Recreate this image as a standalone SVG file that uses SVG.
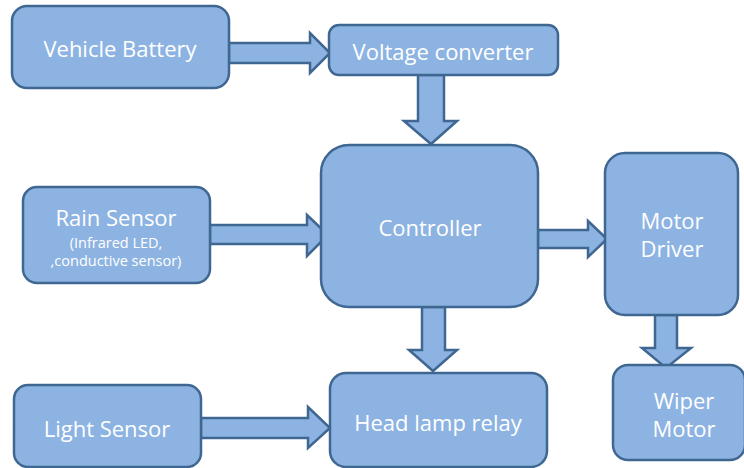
<svg xmlns="http://www.w3.org/2000/svg" width="744" height="468" viewBox="0 0 744 468">
<style>
.box{fill:#8DB3E2;stroke:#3F6791;stroke-width:2.5}
.arr{fill:#8DB3E2;stroke:#3F6791;stroke-width:2.5;stroke-linejoin:miter}
.t{font-family:"Open Sans","Liberation Sans",sans-serif;font-size:22px;fill:#ffffff;text-anchor:middle;dominant-baseline:central}
.s{font-family:"Open Sans","Liberation Sans",sans-serif;font-size:14.5px;fill:#ffffff;text-anchor:middle;dominant-baseline:central}
</style>
<rect width="744" height="468" fill="#ffffff"/>
<g id="connectors">
<polygon class="arr" points="229,43 310,43 310,33 330,53 310,73 310,63 229,63"/>
<polygon class="arr" points="418,75 418,121 404,121 431,144 457,121 444,121 444,75"/>
<polygon class="arr" points="210,225 307,225 307,215 328,235 307,256 307,244 210,244"/>
<polygon class="arr" points="538,230 588,230 588,221 607,239 588,257 588,248 538,248"/>
<polygon class="arr" points="422,307 422,350 409,350 433,371 457,350 445,350 445,307"/>
<polygon class="arr" points="655,315 655,348 642,348 666,368 691,348 677,348 677,315"/>
<polygon class="arr" points="201,418 308,418 308,407 330,428 308,448 308,438 201,438"/>
</g>
<g id="vehicle-battery">
<rect class="box" x="12" y="6" width="217" height="82" rx="15"/>
<text class="t" x="120" y="48">Vehicle Battery</text>
</g>
<g id="voltage-converter">
<rect class="box" x="329" y="25" width="229" height="50" rx="10"/>
<text class="t" x="443" y="51">Voltage converter</text>
</g>
<g id="controller">
<rect class="box" x="321" y="145" width="217" height="162" rx="28"/>
<text class="t" x="430" y="227">Controller</text>
</g>
<g id="rain-sensor">
<rect class="box" x="23" y="187" width="187" height="96" rx="14"/>
<text class="t" x="116" y="217">Rain Sensor</text>
<text class="s" x="116" y="242">(Infrared LED,</text>
<text class="s" x="116" y="260">,conductive sensor)</text>
</g>
<g id="motor-driver">
<rect class="box" x="605" y="153" width="133" height="162" rx="20"/>
<text class="t" x="672" y="220">Motor</text>
<text class="t" x="672" y="248">Driver</text>
</g>
<g id="light-sensor">
<rect class="box" x="14" y="385" width="187" height="82" rx="14"/>
<text class="t" x="107" y="428">Light Sensor</text>
</g>
<g id="head-lamp-relay">
<rect class="box" x="330" y="373" width="217" height="94" rx="16"/>
<text class="t" x="438" y="422">Head lamp relay</text>
</g>
<g id="wiper-motor">
<rect class="box" x="613" y="365" width="132" height="95" rx="15"/>
<text class="t" x="684" y="400">Wiper</text>
<text class="t" x="684" y="428">Motor</text>
</g>
</svg>
